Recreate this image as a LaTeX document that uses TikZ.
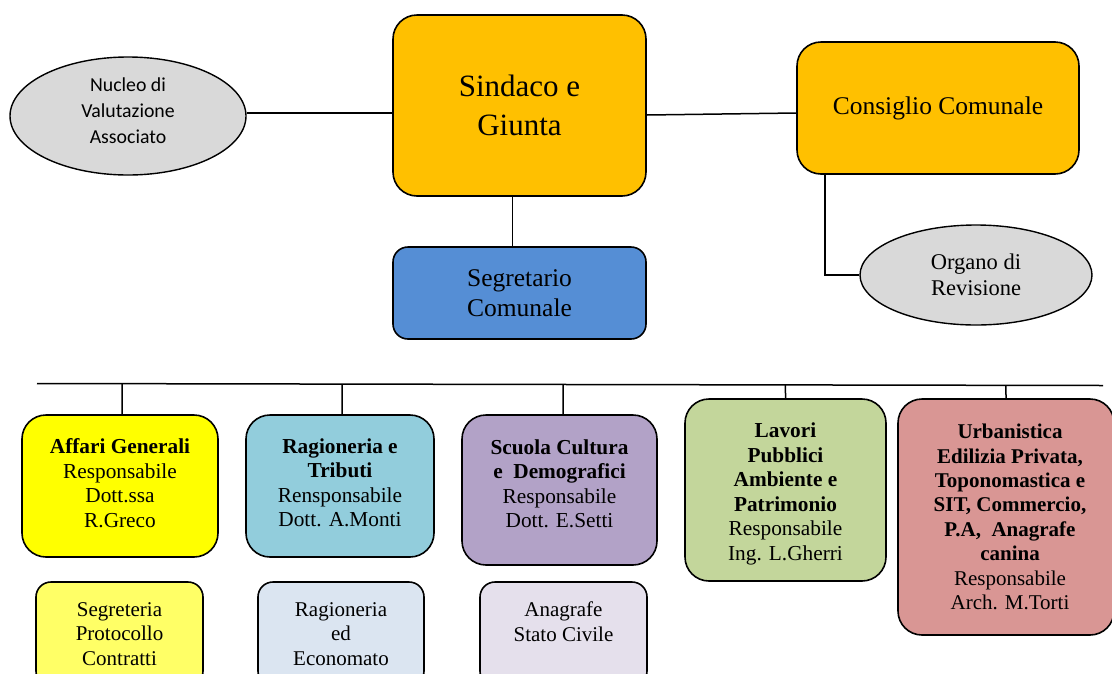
\documentclass[tikz,border=0pt]{standalone}
\usepackage{fontspec}
\setmainfont{Liberation Serif}
\newfontfamily\calib{Carlito}
\usetikzlibrary{shapes.geometric,calc}
\definecolor{orangebox}{HTML}{FFC000}
\definecolor{graybox}{HTML}{D9D9D9}
\definecolor{bluebox}{HTML}{558ED5}
\definecolor{yelbox}{HTML}{FFFF00}
\definecolor{cyanbox}{HTML}{92CDDC}
\definecolor{purbox}{HTML}{B2A2C7}
\definecolor{grnbox}{HTML}{C3D69B}
\definecolor{redbox}{HTML}{D99694}
\definecolor{yelsub}{HTML}{FFFF66}
\definecolor{bluesub}{HTML}{DBE5F1}
\definecolor{pursub}{HTML}{E5E0EC}
\tikzset{
  box/.style={draw=black, line width=1.6pt, rounded corners=24pt, inner sep=0pt, align=center, text=black},
  subbox/.style={draw=black, line width=1.6pt, rounded corners=15pt, inner sep=0pt, align=center, text=black,
    font=\fontsize{21}{24.6}\selectfont},
  dept/.style={box},
  dtext/.style={inner sep=0pt, align=center, text=black, font=\fontsize{21.3}{24.5}\selectfont},
  oval/.style={ellipse, draw=black, line width=1.4pt, fill=graybox, inner sep=0pt, align=center},
  conn/.style={line width=1.5pt, draw=black}
}
\begin{document}
\begin{tikzpicture}[x=1pt,y=-1pt]
\useasboundingbox (0,0) rectangle (1112,673);
\clip (0,0) rectangle (1112,673);
% top level
\node[oval, minimum width=236pt, minimum height=118pt] (N) at (128,116) {};
\node[dtext, font=\calib\fontsize{19.8}{26}\selectfont] (Nt) at ([yshift=5pt]N.center) {Nucleo di\\Valutazione\\Associato};
\node[box, fill=orangebox, minimum width=253pt, minimum height=181pt, font=\fontsize{31}{39}\selectfont] (S) at (519.5,105.5) {Sindaco e\\Giunta};
\node[box, fill=orangebox, minimum width=282pt, minimum height=132pt, font=\fontsize{25.5}{30}\selectfont] (C) at (938,108) {Consiglio Comunale};
\node[oval, minimum width=232pt, minimum height=100pt, font=\fontsize{22.5}{26}\selectfont] (O) at (976,275) {Organo di\\Revisione};
\node[box, rounded corners=15pt, fill=bluebox, minimum width=253pt, minimum height=92pt, font=\fontsize{25.5}{30}\selectfont] (G) at (519.5,293) {Segretario\\Comunale};
% connectors top
\coordinate (Ne) at ([yshift=3pt]N.east);
\draw[conn] (Ne) -- (S.west |- Ne);
\draw[conn] ([yshift=-9.5pt]S.east) -- ([yshift=-5pt]C.west);
\draw[conn] ([xshift=-7pt]S.south) -- ([xshift=-7pt]G.north);
\draw[conn] ([xshift=29pt]C.south west) |- (O.west);
% bus
\coordinate (busL) at (37,383.5);
\coordinate (busR) at (1103,385.5);
\draw[conn] (busL) -- (busR);
% departments
\node[dept, fill=yelbox, minimum width=196pt, minimum height=142pt] (A) at (120,486) {};
\node[dtext] (At) at ([yshift=3pt]A.center) {\textbf{Affari Generali}\\Responsabile\\Dott.ssa\\R.Greco};
\node[dept, fill=cyanbox, minimum width=188pt, minimum height=142pt] (R) at (340,486) {};
\node[dtext] (Rt) at ([yshift=3pt]R.center) {\textbf{Ragioneria e}\\\textbf{Tributi}\\Rensponsabile\\Dott. A.Monti};
\node[dept, fill=purbox, minimum width=195pt, minimum height=150pt] (Sc) at (559.5,490) {};
\node[dtext] (Sct) at ([yshift=6pt]Sc.center) {\textbf{Scuola Cultura}\\\textbf{e\ \ Demografici}\\Responsabile\\Dott. E.Setti};
\node[dept, fill=grnbox, minimum width=201pt, minimum height=182pt] (L) at (785.5,490) {};
\node[dtext] (Lt) at ([yshift=-4pt]L.center) {\textbf{Lavori}\\\textbf{Pubblici}\\\textbf{Ambiente e}\\\textbf{Patrimonio}\\Responsabile\\Ing. L.Gherri};
\node[dept, fill=redbox, minimum width=216pt, minimum height=236pt] (U) at (1006,517) {};
\node[dtext, font=\fontsize{21}{24.4}\selectfont] (Ut) at ([xshift=4pt]U.center) {\textbf{Urbanistica}\\\textbf{Edilizia Privata,}\\\textbf{Toponomastica e}\\\textbf{SIT, Commercio,}\\\textbf{P.A,\ \ Anagrafe}\\\textbf{canina}\\Responsabile\\Arch. M.Torti};
% drops
\draw[conn] ([xshift=2pt]A.north) -- ($(busL)!([xshift=2pt]A.north)!(busR)$);
\draw[conn] ([xshift=2pt]R.north) -- ($(busL)!([xshift=2pt]R.north)!(busR)$);
\draw[conn] ([xshift=3.5pt]Sc.north) -- ($(busL)!([xshift=3.5pt]Sc.north)!(busR)$);
\draw[conn] (L.north) -- ($(busL)!(L.north)!(busR)$);
\draw[conn] (U.north) -- ($(busL)!(U.north)!(busR)$);
% sub offices
\node[subbox, fill=yelsub, minimum width=167pt, minimum height=104pt] (SA) at (119.5,634) {Segreteria\\Protocollo\\Contratti};
\node[subbox, fill=bluesub, minimum width=166pt, minimum height=104pt] (SR) at (341,634) {Ragioneria\\ed\\Economato};
\node[subbox, fill=pursub, minimum width=167pt, minimum height=104pt] (SS) at (563.5,634) {Anagrafe\\Stato Civile\\\mbox{}};
\end{tikzpicture}
\end{document}
